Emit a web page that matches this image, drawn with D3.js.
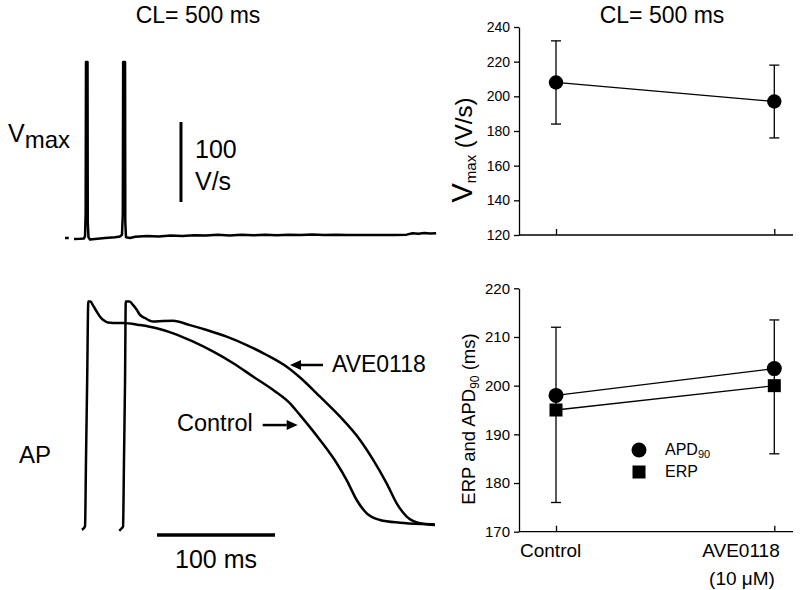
<!DOCTYPE html>
<html><head><meta charset="utf-8">
<script src="https://cdn.jsdelivr.net/npm/d3@7"></script>
<style>
body{margin:0;background:#fff}
svg{display:block}
text{font-family:"Liberation Sans",Arial,Helvetica,sans-serif;fill:#000}
</style></head>
<body><svg id="c" width="800" height="590"></svg>
<script>
// ---------- data ----------
const categories = ["Control", "AVE0118"];
const vmaxMean = [208, 197];
const vmaxLow = [184, 176];
const vmaxHigh = [232, 218];
const vmaxTicks = [120, 140, 160, 180, 200, 220, 240];

const apd90 = [198, 203.5];
const erp = [195, 200];
const durLow = [176, 186];
const durHigh = [212, 213.5];
const durTicks = [170, 180, 190, 200, 210, 220];

// action potential traces: [time ms, membrane potential mV]
const apControl = [
  [-5.3,-86.3],[-3.4,-85.5],[-2.5,-84.5],[-1.7,-50.8],[-0.7,-9.9],[0.25,30.2],[2.1,30.2],
  [4.5,28],[7.6,24.9],[10.2,22.5],[13.6,20.5],[16.9,19.5],[21.2,19.3],[29.7,19.3],
  [44.1,18.2],[58.2,16.6],[72.3,14],[89.2,9.7],[106.2,4.6],[123.1,-1.3],[140.1,-8.2],
  [157,-15],[171.2,-21.8],[179.7,-27.8],[196.6,-40.5],[210.8,-52.4],[219.2,-61],
  [227.7,-71.2],[236.2,-78],[247.5,-81.4],[264.4,-82.8],[283.9,-83.5],[294,-83.7]
];
const apAVE = [
  [26.5,-86.9],[28.4,-85.8],[29.7,-84.7],[30.5,-50.8],[31.4,-9.9],[32,30.2],[35.2,30.2],
  [38.1,28.5],[41.3,26],[44.1,23.4],[48.3,21.8],[52.5,20.4],[55.1,20],[63.6,20.3],
  [72,20.4],[86.4,18.2],[100.6,15.7],[117.5,12.3],[134.5,8],[151.4,2.9],[168.4,-3.1],
  [179.7,-8.6],[196.6,-18.4],[213.6,-28.6],[230.5,-40.5],[241.8,-50.8],[253.1,-62.7],
  [261.6,-72.9],[270.1,-79.7],[281.4,-83.1],[294.1,-84]
];
// Vmax (dV/dt) trace: [time ms, V/s]
const vmaxDash = [[-19.5,0],[-16.3,0]];
const vmaxTrace = [
  [-11.9,-1.2],[-6.8,-1],[-3.4,-0.5],[-2.5,2.5],[-2.0,30],[-1.7,220],[-0.4,220],[-0.2,20],
  [0.4,1],[1.7,-1.9],[5.9,-1.2],[14.4,0],[22.9,1],[27.1,2],[28.8,4],[29.5,30],[29.8,220],
  [31.4,220],[31.6,20],[32.2,1],[35.6,0],[40,1.5],[50,2.5],[60,2],[70,3],[80,2.5],[90,3.5],
  [100,3],[110,4],[120,3.2],[130,4],[140,3.3],[150,4.2],[160,3.4],[170,4.2],[180,3.6],
  [190,4.3],[200,3.8],[210,4],[220,3.8],[230,3.9],[240,3.8],[250,3.8],[260,3.9],[270,4.2],
  [275,6],[280,5.2],[285,6.2],[290,5.5],[295,6]
];

// ---------- drawing ----------
const svg = d3.select("#c");
svg.append("rect").attr("width",800).attr("height",590).attr("fill","#fff");

// left panels: shared time scale
const xT = d3.scaleLinear().domain([0,100]).range([88,206]);
const yAP = d3.scaleLinear().domain([-85,30]).range([527,302]);
const yV = d3.scaleLinear().domain([0,100]).range([238,158]);

const lineAP = d3.line().x(d=>xT(d[0])).y(d=>yAP(d[1])).curve(d3.curveMonotoneX);
const lineV = d3.line().x(d=>xT(d[0])).y(d=>yV(d[1]));

const L = svg.append("g");
L.append("text").attr("x",198).attr("y",23).attr("text-anchor","middle").attr("font-size",23).text("CL= 500 ms");

[vmaxDash, vmaxTrace].forEach(tr=>{
  L.append("path").attr("d",lineV(tr)).attr("fill","none").attr("stroke","#000")
    .attr("stroke-width",2.5).attr("stroke-linejoin","round");
});
[apControl, apAVE].forEach(tr=>{
  L.append("path").attr("d",lineAP(tr)).attr("fill","none").attr("stroke","#000")
    .attr("stroke-width",2.5).attr("stroke-linejoin","round");
});

// Vmax label
const vl = L.append("text").attr("x",8).attr("y",142);
vl.append("tspan").attr("font-size",25).text("V");
vl.append("tspan").attr("font-size",24).attr("dy",6).text("max");

// 100 V/s scale bar
L.append("line").attr("x1",xT(78.8)).attr("x2",xT(78.8)).attr("y1",yV(145)).attr("y2",yV(45))
  .attr("stroke","#000").attr("stroke-width",3);
L.append("text").attr("x",195).attr("y",158).attr("font-size",25).text("100");
L.append("text").attr("x",195).attr("y",190).attr("font-size",25).text("V/s");

// AP label
L.append("text").attr("x",19).attr("y",463).attr("font-size",24).text("AP");

// 100 ms scale bar
L.append("line").attr("x1",xT(58.5)).attr("x2",xT(158.5)).attr("y1",yAP(-89.1)).attr("y2",yAP(-89.1))
  .attr("stroke","#000").attr("stroke-width",3.5);
L.append("text").attr("x",216).attr("y",568).attr("text-anchor","middle").attr("font-size",25).text("100 ms");

// annotations with arrows
function arrow(g, xTip, yTip, dir, shaftLen){
  // dir = -1 pointing left, +1 pointing right
  const head = 11, hw = 5;
  g.append("line").attr("x1",xTip - dir*head).attr("x2",xTip - dir*(head+shaftLen))
    .attr("y1",yTip).attr("y2",yTip).attr("stroke","#000").attr("stroke-width",2.5);
  g.append("path").attr("d",`M${xTip},${yTip}L${xTip-dir*head},${yTip-hw}L${xTip-dir*head},${yTip+hw}Z`).attr("fill","#000");
}
arrow(L, xT(171.2), yAP(-2.2), -1, 22);
L.append("text").attr("x",332).attr("y",372).attr("font-size",23).text("AVE0118");
arrow(L, xT(177.7), yAP(-32.9), 1, 24);
L.append("text").attr("x",177).attr("y",431).attr("font-size",23.5).text("Control");

// ---------- right panels ----------
const xC = d3.scalePoint().domain(categories).range([556, 774.3]);
const axL = 519, axR = 793;

function panel(y, ticks, tickFont){
  const g = svg.append("g");
  const ya = d3.axisLeft(y).tickValues(ticks).tickSizeInner(5).tickSizeOuter(0).tickPadding(4);
  const gy = g.append("g").attr("transform",`translate(${axL},0)`).call(ya);
  gy.selectAll("text").attr("font-size",tickFont).style("font-family",'"Liberation Sans",Arial,sans-serif').attr("fill","#000");
  gy.selectAll("line,path").attr("stroke","#000").attr("stroke-width",1.3);
  const base = y.range()[0];
  const xa = d3.axisBottom(xC).tickSizeInner(-6).tickSizeOuter(0).tickFormat("");
  const gx = g.append("g").attr("transform",`translate(0,${base})`).call(xa);
  gx.select(".domain").remove();
  gx.selectAll("line").attr("stroke","#000").attr("stroke-width",1.3);
  g.append("line").attr("x1",axL).attr("x2",axR).attr("y1",base).attr("y2",base)
    .attr("stroke","#000").attr("stroke-width",1.3);
  return g;
}
function errorBars(g, y, low, high){
  categories.forEach((c,i)=>{
    const x = xC(c);
    g.append("line").attr("x1",x).attr("x2",x).attr("y1",y(low[i])).attr("y2",y(high[i])).attr("stroke","#000").attr("stroke-width",1.3);
    [low[i],high[i]].forEach(v=>{
      g.append("line").attr("x1",x-5).attr("x2",x+5).attr("y1",y(v)).attr("y2",y(v)).attr("stroke","#000").attr("stroke-width",1.3);
    });
  });
}
const seriesLine = (y)=>d3.line().x((d,i)=>xC(categories[i])).y(d=>y(d));

// top right: Vmax
const yTop = d3.scaleLinear().domain([120,240]).range([235,27]);
const gT = panel(yTop, vmaxTicks, 14);
svg.append("text").attr("x",662).attr("y",23).attr("text-anchor","middle").attr("font-size",23).text("CL= 500 ms");
gT.append("path").attr("d",seriesLine(yTop)(vmaxMean)).attr("fill","none").attr("stroke","#000").attr("stroke-width",1.3);
errorBars(gT, yTop, vmaxLow, vmaxHigh);
gT.selectAll("circle.m").data(vmaxMean).enter().append("circle")
  .attr("cx",(d,i)=>xC(categories[i])).attr("cy",d=>yTop(d)).attr("r",7.2).attr("fill","#000");
const tl = svg.append("text").attr("transform","translate(471.5,150) rotate(-90)").attr("text-anchor","middle");
tl.append("tspan").attr("font-size",29).text("V");
tl.append("tspan").attr("font-size",15).attr("dy",4).text("max");
tl.append("tspan").attr("font-size",24).attr("dy",-4).text(" (V/s)");

// bottom right: ERP and APD90
const yBot = d3.scaleLinear().domain([170,220]).range([531.7,288.3]);
const gB = panel(yBot, durTicks, 15);
gB.append("path").attr("d",seriesLine(yBot)(apd90)).attr("fill","none").attr("stroke","#000").attr("stroke-width",1.3);
gB.append("path").attr("d",seriesLine(yBot)(erp)).attr("fill","none").attr("stroke","#000").attr("stroke-width",1.3);
errorBars(gB, yBot, durLow, durHigh);
gB.selectAll("circle.a").data(apd90).enter().append("circle")
  .attr("cx",(d,i)=>xC(categories[i])).attr("cy",d=>yBot(d)).attr("r",7.5).attr("fill","#000");
gB.selectAll("rect.e").data(erp).enter().append("rect")
  .attr("x",(d,i)=>xC(categories[i])-6.5).attr("y",d=>yBot(d)-6.5).attr("width",13).attr("height",13).attr("fill","#000");

const bl = svg.append("text").attr("transform","translate(475,419) rotate(-90)").attr("text-anchor","middle").attr("font-size",18.5);
bl.append("tspan").text("ERP and APD");
bl.append("tspan").attr("font-size",12).attr("dy",4).text("90");
bl.append("tspan").attr("dy",-4).text(" (ms)");

// x labels
svg.append("text").attr("x",520).attr("y",557).attr("font-size",19).text("Control");
svg.append("text").attr("x",741).attr("y",557).attr("text-anchor","middle").attr("font-size",19).text("AVE0118");
svg.append("text").attr("x",742).attr("y",585).attr("text-anchor","middle").attr("font-size",19).text("(10 \u03BCM)");

// legend
const lg = svg.append("g");
lg.append("circle").attr("cx",639).attr("cy",450).attr("r",7.5).attr("fill","#000");
lg.append("rect").attr("x",632.5).attr("y",465.5).attr("width",13).attr("height",13).attr("fill","#000");
const lt = lg.append("text").attr("x",665).attr("y",454.5).attr("font-size",16);
lt.append("tspan").text("APD");
lt.append("tspan").attr("font-size",11).attr("dy",3).text("90");
lg.append("text").attr("x",665).attr("y",476.5).attr("font-size",16).text("ERP");
</script></body></html>
